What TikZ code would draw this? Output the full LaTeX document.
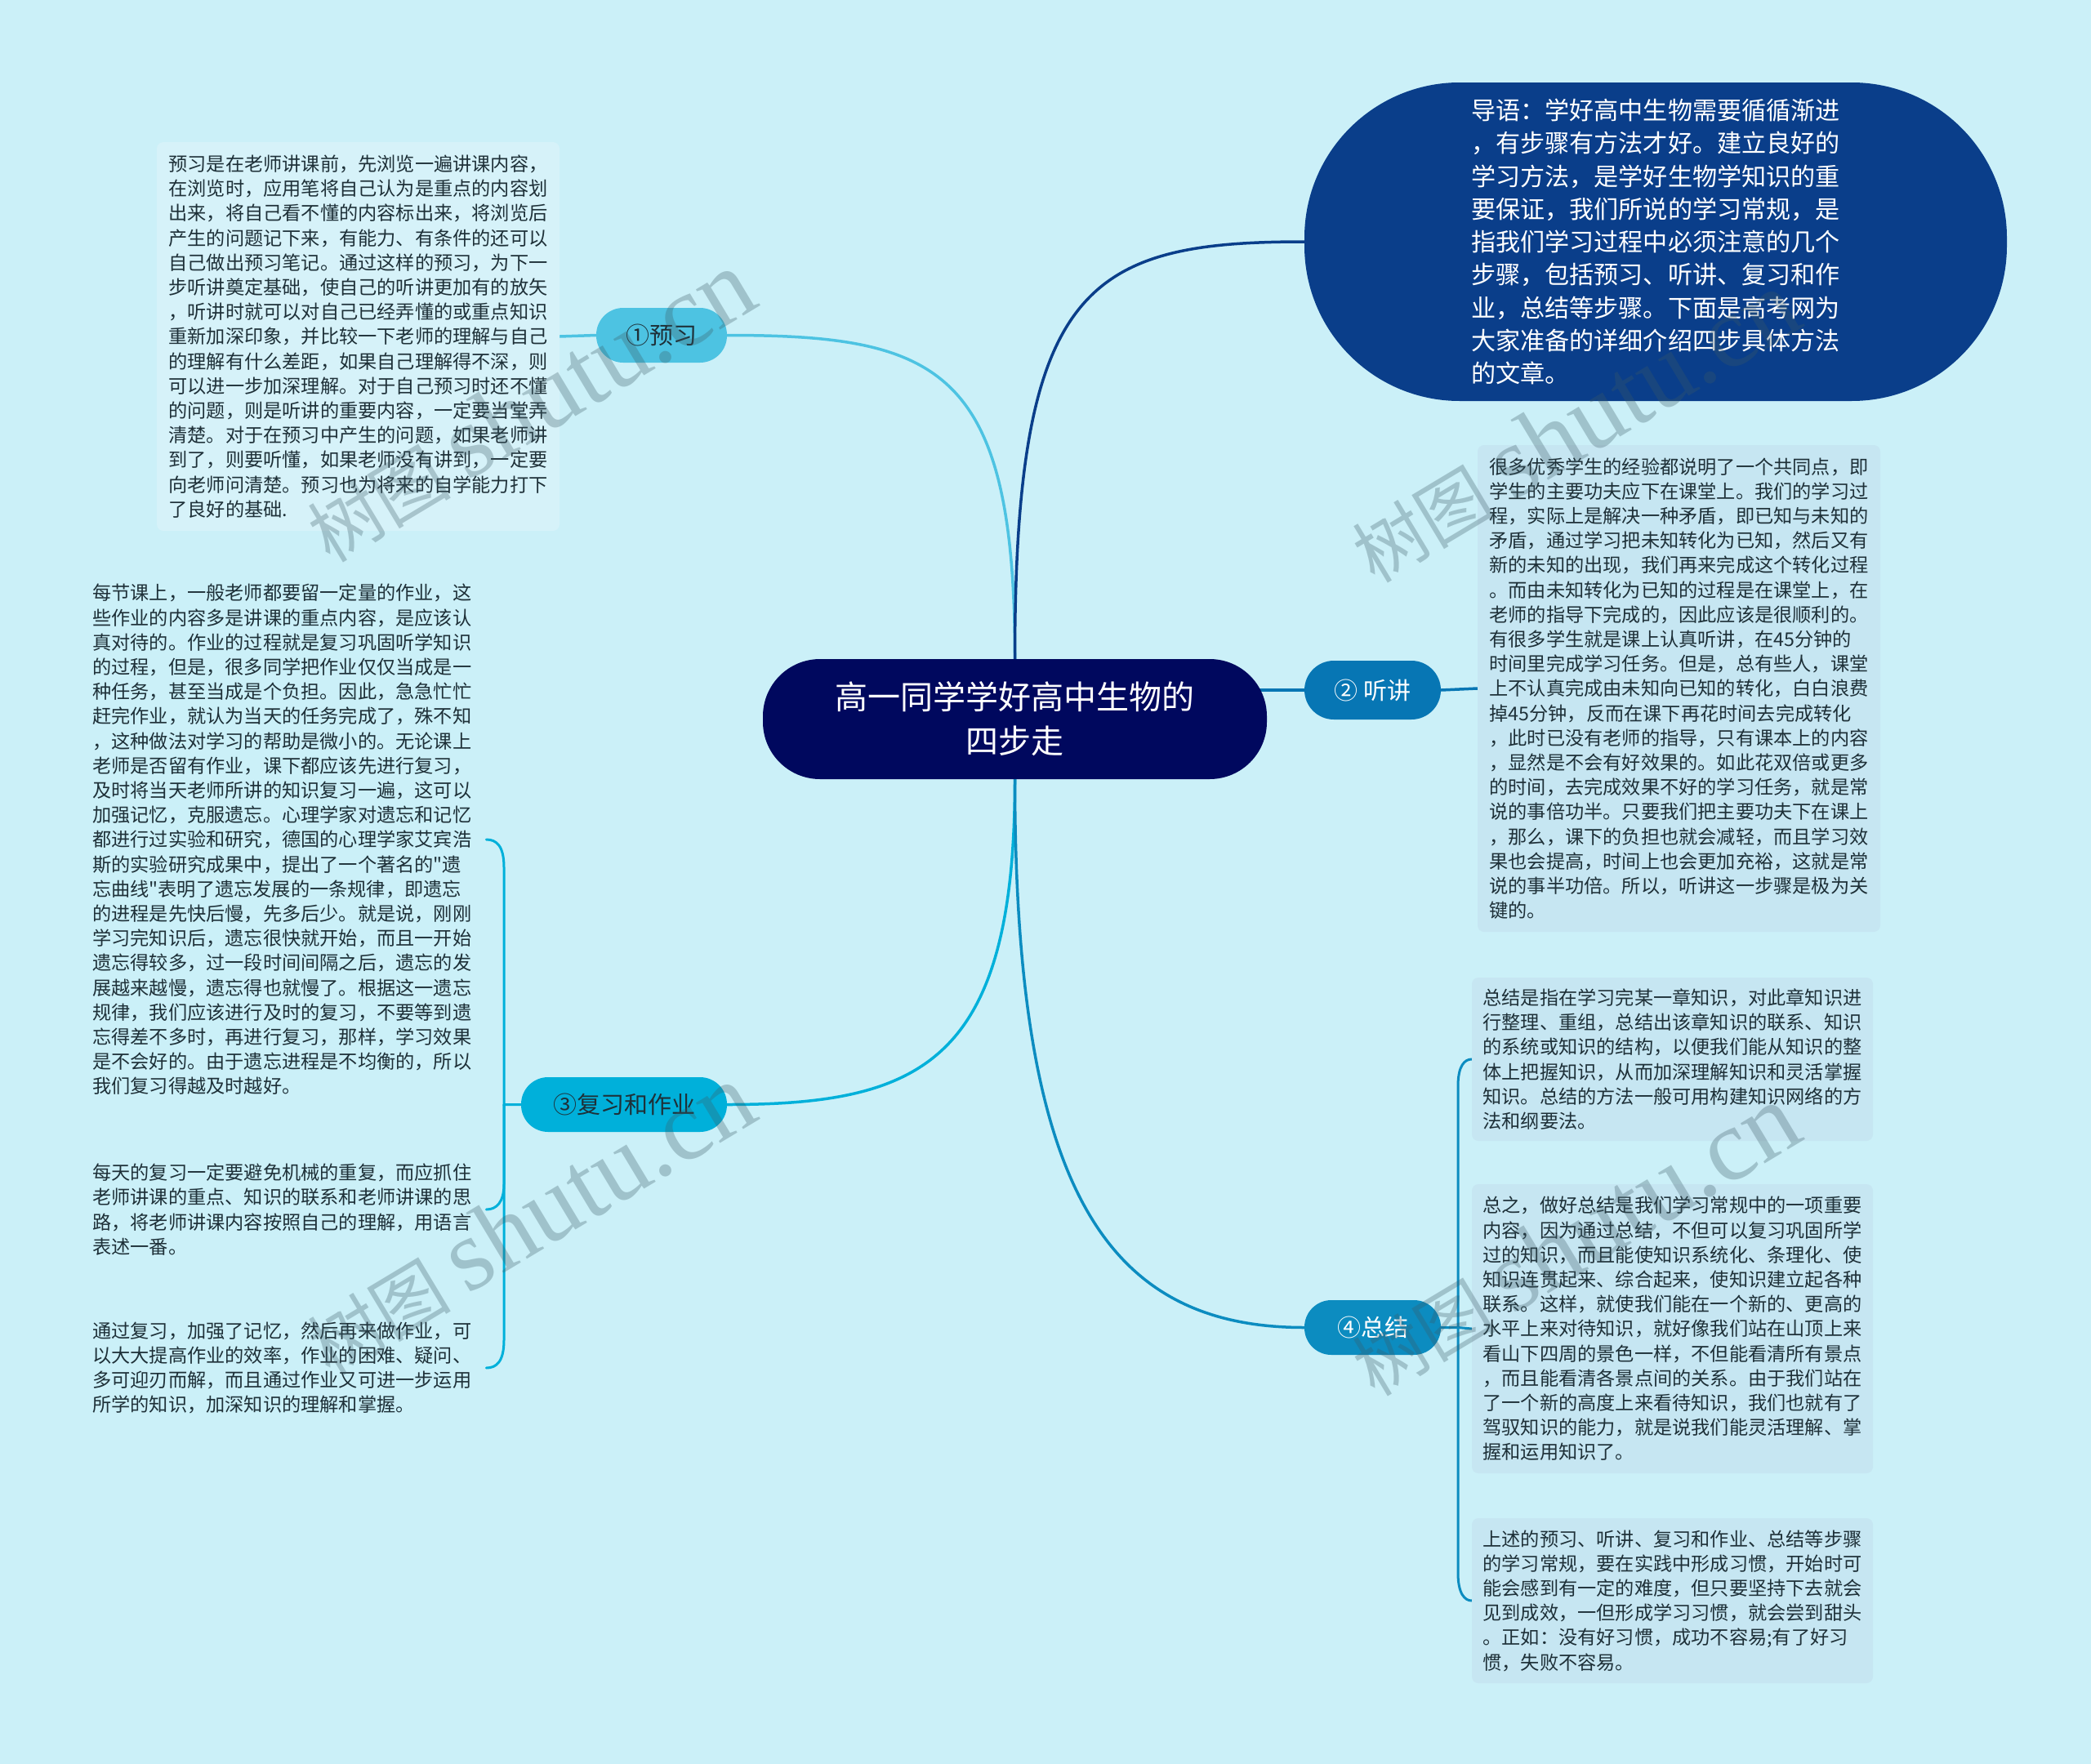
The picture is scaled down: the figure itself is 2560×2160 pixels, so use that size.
\documentclass[tikz,border=0pt]{standalone}
\usepackage{fontspec}
\setmainfont{Noto Sans CJK SC}[Ligatures=TeXOff]
\newfontfamily\wmlatin{Liberation Serif}
\definecolor{bgc}{RGB}{203,240,248}
\definecolor{txt}{RGB}{30,48,56}
\definecolor{yxfill}{RGB}{214,242,249}
\definecolor{rbox}{RGB}{198,230,242}
\definecolor{cone}{RGB}{77,195,226}
\definecolor{ctwo}{RGB}{7,118,180}
\definecolor{cthree}{RGB}{0,176,218}
\definecolor{cfour}{RGB}{12,140,192}
\definecolor{cintro}{RGB}{10,62,138}
\definecolor{croot}{RGB}{0,8,94}
\definecolor{wmc}{RGB}{60,90,100}
\pgfdeclarelayer{bg}
\pgfsetlayers{bg,main}
\begin{document}
\begin{tikzpicture}[x=1pt,y=-1pt,
  body/.style={font=\fontsize{23.2}{30.2}\selectfont, text=txt, align=left, inner sep=0pt},
  plainblock/.style={body, inner xsep=18pt},
  tbox/.style={body, rounded corners=8pt, minimum width=491pt},
  branch/.style={rounded corners=33pt, minimum height=67pt, inner sep=0pt, text=txt,
     font=\fontsize{29}{34}\selectfont},
  conn/.style={line width=3.5pt, line cap=round},
  brk/.style={line width=3pt, line cap=round},
  wm/.style={text=wmc, opacity=0.3, inner sep=0pt}
]
\useasboundingbox (0,0) rectangle (2560,2160);

% ---------- nodes ----------
\node[fill=croot, text=white, rounded corners=70pt, minimum width=617pt,
      minimum height=147pt, align=center, inner sep=0pt,
      font=\fontsize{40}{54}\selectfont] (root) at (1242.5,880.5)
  {高一同学学好高中生物的\\四步走};

\node[fill=cintro, text=white, rounded corners=190pt, minimum width=860pt,
      minimum height=390pt, align=left, inner sep=0pt,
      font=\fontsize{30.1}{40.25}\selectfont] (intro) at (2027,296)
  {导语：学好高中生物需要循循渐进\\
   ，有步骤有方法才好。建立良好的\\
   学习方法，是学好生物学知识的重\\
   要保证，我们所说的学习常规，是\\
   指我们学习过程中必须注意的几个\\
   步骤，包括预习、听讲、复习和作\\
   业，总结等步骤。下面是高考网为\\
   大家准备的详细介绍四步具体方法\\
   的文章。};

\node[branch, fill=cone, minimum width=160pt] (yx) at (810,410.5) {①预习};
\node[branch, fill=ctwo, text=white, minimum width=167pt, minimum height=72pt,
      rounded corners=36pt] (tj) at (1680.5,845) {② 听讲};
\node[branch, fill=cthree, minimum width=252pt] (fx) at (764,1352.5) {③复习和作业};
\node[branch, fill=cfour, text=white, minimum width=167pt] (zj) at (1680.5,1625.5) {④总结};

\node[tbox, fill=yxfill, minimum width=493pt, minimum height=476pt] (yxt) at (438.5,412)
  {预习是在老师讲课前，先浏览一遍讲课内容，\\
   在浏览时，应用笔将自己认为是重点的内容划\\
   出来，将自己看不懂的内容标出来，将浏览后\\
   产生的问题记下来，有能力、有条件的还可以\\
   自己做出预习笔记。通过这样的预习，为下一\\
   步听讲奠定基础，使自己的听讲更加有的放矢\\
   ，听讲时就可以对自己已经弄懂的或重点知识\\
   重新加深印象，并比较一下老师的理解与自己\\
   的理解有什么差距，如果自己理解得不深，则\\
   可以进一步加深理解。对于自己预习时还不懂\\
   的问题，则是听讲的重要内容，一定要当堂弄\\
   清楚。对于在预习中产生的问题，如果老师讲\\
   到了，则要听懂，如果老师没有讲到，一定要\\
   向老师问清楚。预习也为将来的自学能力打下\\
   了良好的基础.};

\node[tbox, fill=rbox, minimum width=493pt, minimum height=596pt] (tjt) at (2055.5,843)
  {很多优秀学生的经验都说明了一个共同点，即\\
   学生的主要功夫应下在课堂上。我们的学习过\\
   程，实际上是解决一种矛盾，即已知与未知的\\
   矛盾，通过学习把未知转化为已知，然后又有\\
   新的未知的出现，我们再来完成这个转化过程\\
   。而由未知转化为已知的过程是在课堂上，在\\
   老师的指导下完成的，因此应该是很顺利的。\\
   有很多学生就是课上认真听讲，在45分钟的\\
   时间里完成学习任务。但是，总有些人，课堂\\
   上不认真完成由未知向已知的转化，白白浪费\\
   掉45分钟，反而在课下再花时间去完成转化\\
   ，此时已没有老师的指导，只有课本上的内容\\
   ，显然是不会有好效果的。如此花双倍或更多\\
   的时间，去完成效果不好的学习任务，就是常\\
   说的事倍功半。只要我们把主要功夫下在课上\\
   ，那么，课下的负担也就会减轻，而且学习效\\
   果也会提高，时间上也会更加充裕，这就是常\\
   说的事半功倍。所以，听讲这一步骤是极为关\\
   键的。};

\node[plainblock, anchor=west] (fx1) at (95,1028)
  {每节课上，一般老师都要留一定量的作业，这\\
   些作业的内容多是讲课的重点内容，是应该认\\
   真对待的。作业的过程就是复习巩固听学知识\\
   的过程，但是，很多同学把作业仅仅当成是一\\
   种任务，甚至当成是个负担。因此，急急忙忙\\
   赶完作业，就认为当天的任务完成了，殊不知\\
   ，这种做法对学习的帮助是微小的。无论课上\\
   老师是否留有作业，课下都应该先进行复习，\\
   及时将当天老师所讲的知识复习一遍，这可以\\
   加强记忆，克服遗忘。心理学家对遗忘和记忆\\
   都进行过实验和研究，德国的心理学家艾宾浩\\
   斯的实验研究成果中，提出了一个著名的"遗\\
   忘曲线"表明了遗忘发展的一条规律，即遗忘\\
   的进程是先快后慢，先多后少。就是说，刚刚\\
   学习完知识后，遗忘很快就开始，而且一开始\\
   遗忘得较多，过一段时间间隔之后，遗忘的发\\
   展越来越慢，遗忘得也就慢了。根据这一遗忘\\
   规律，我们应该进行及时的复习，不要等到遗\\
   忘得差不多时，再进行复习，那样，学习效果\\
   是不会好的。由于遗忘进程是不均衡的，所以\\
   我们复习得越及时越好。};

\node[plainblock, anchor=west] (fx2) at (95,1481)
  {每天的复习一定要避免机械的重复，而应抓住\\
   老师讲课的重点、知识的联系和老师讲课的思\\
   路，将老师讲课内容按照自己的理解，用语言\\
   表述一番。};

\node[plainblock, anchor=west] (fx3) at (95,1675)
  {通过复习，加强了记忆，然后再来做作业，可\\
   以大大提高作业的效率，作业的困难、疑问、\\
   多可迎刃而解，而且通过作业又可进一步运用\\
   所学的知识，加深知识的理解和掌握。};

\node[tbox, fill=rbox, minimum height=200pt] (zj1) at (2047.5,1297)
  {总结是指在学习完某一章知识，对此章知识进\\
   行整理、重组，总结出该章知识的联系、知识\\
   的系统或知识的结构，以便我们能从知识的整\\
   体上把握知识，从而加深理解知识和灵活掌握\\
   知识。总结的方法一般可用构建知识网络的方\\
   法和纲要法。};

\node[tbox, fill=rbox, minimum height=354pt] (zj2) at (2047.5,1627)
  {总之，做好总结是我们学习常规中的一项重要\\
   内容，因为通过总结，不但可以复习巩固所学\\
   过的知识，而且能使知识系统化、条理化、使\\
   知识连贯起来、综合起来，使知识建立起各种\\
   联系。这样，就使我们能在一个新的、更高的\\
   水平上来对待知识，就好像我们站在山顶上来\\
   看山下四周的景色一样，不但能看清所有景点\\
   ，而且能看清各景点间的关系。由于我们站在\\
   了一个新的高度上来看待知识，我们也就有了\\
   驾驭知识的能力，就是说我们能灵活理解、掌\\
   握和运用知识了。};

\node[tbox, fill=rbox, minimum height=202pt] (zj3) at (2047.5,1960)
  {上述的预习、听讲、复习和作业、总结等步骤\\
   的学习常规，要在实践中形成习惯，开始时可\\
   能会感到有一定的难度，但只要坚持下去就会\\
   见到成效，一但形成学习习惯，就会尝到甜头\\
   。正如：没有好习惯，成功不容易;有了好习\\
   惯，失败不容易。};

% ---------- connectors (behind the nodes) ----------
\begin{pgfonlayer}{bg}
\fill[bgc] (0,0) rectangle (2560,2160);
\draw[conn, cone] (root.center) -- (root.north) .. controls (1242.5,450) and (1150,410.5) .. (yx.east);
\draw[conn, cintro] (root.center) -- (root.north) .. controls (1242.5,350) and (1330,296) .. (intro.west);
\draw[conn, ctwo] (root.center |- tj.west) -- (tj.west);
\draw[conn, ctwo] (tj.east) -- (tjt.west);
\draw[conn, cone] (yx.west) -- (yxt.east);
\draw[conn, cthree] (root.center) -- (root.south) .. controls (1242.5,1300) and (1130,1352.5) .. (fx.east);
\draw[conn, cfour] (root.center) -- (root.south) .. controls (1242.5,1450) and (1350,1625.5) .. (zj.west);
% bracket of step 3
\coordinate (fxs) at (617,1352.5);
\draw[brk, cthree] (fx.west) -- (fxs) -- (617,1062) .. controls (617,1036) and (608,1028) .. (fx1.east);
\draw[brk, cthree] (fxs) -- (617,1450) .. controls (617,1472) and (608,1481) .. (fx2.east);
\draw[brk, cthree] (fxs) -- (617,1641) .. controls (617,1667) and (608,1675) .. (fx3.east);
% bracket of step 4
\coordinate (zjs) at (1785,1625.5);
\draw[brk, cfour] (zj.east) -- (zjs) -- (1785,1330) .. controls (1785,1305) and (1793,1297) .. (zj1.west);
\draw[brk, cfour] (zjs) -- (zj2.west);
\draw[brk, cfour] (zjs) -- (1785,1926) .. controls (1785,1951) and (1793,1960) .. (zj3.west);
\end{pgfonlayer}

% ---------- watermarks ----------
\foreach \i/\px/\py in {1/648/498, 2/1927/523, 3/648/1494, 4/1927/1519}{
  \node[wm, rotate=31] (wm\i) at (\px,\py)
    {{\fontsize{88}{88}\selectfont 树图}\hspace{20pt}{\wmlatin\fontsize{125}{125}\selectfont shutu.cn}};
}
\end{tikzpicture}
\end{document}
